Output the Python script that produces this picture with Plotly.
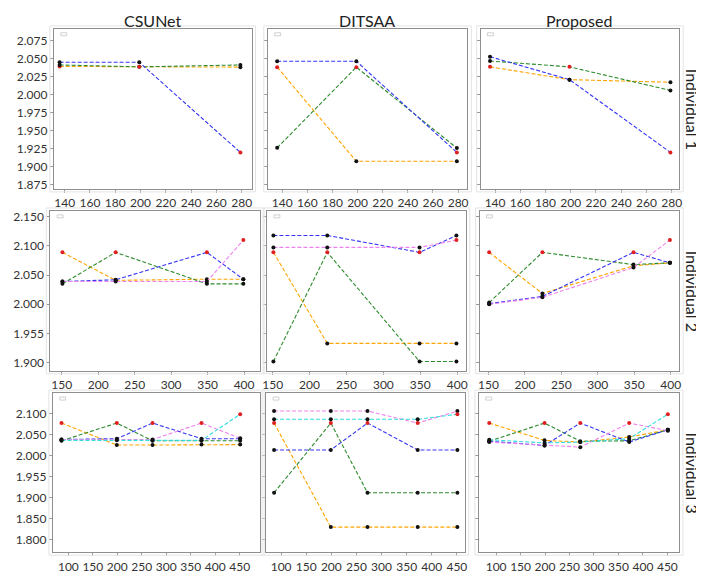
import plotly.graph_objects as go

# page body has an 8px default margin; lay out in reference pixels and shift
OFF = 8
W, H = 704 - OFF, 578 - OFF

methods = ["CSUNet", "DITSAA", "Proposed"]
individuals = ["Individual 1", "Individual 2", "Individual 3"]
series_names = ["orange", "green", "blue", "violet", "cyan"]
series_colors = ["#FFA500", "#2E8B2E", "#3535F5", "#EE82EE", "#30DDDD"]

x_ind1 = [136, 199, 279]
x_ind2 = [151, 224, 349, 399]
x_ind3 = [86, 199, 272, 372, 451]

# Individual 1
i1_csunet = {
    "orange": [2.039, 2.0384, 2.038],
    "green": [2.041, 2.0384, 2.041],
    "blue": [2.0447, 2.0447, 1.920],
}
i1_ditsaa = {
    "orange": [2.038, 1.9077, 1.9077],
    "green": [1.9263, 2.038, 1.926],
    "blue": [2.0461, 2.0461, 1.920],
}
i1_proposed = {
    "orange": [2.0384, 2.0207, 2.0171],
    "green": [2.0465, 2.0384, 2.0058],
    "blue": [2.0524, 2.0207, 1.920],
}
# Individual 2
i2_csunet = {
    "orange": [2.089, 2.041, 2.043, 2.043],
    "green": [2.035, 2.089, 2.035, 2.035],
    "blue": [2.039, 2.042, 2.089, 2.043],
    "violet": [2.039, 2.039, 2.039, 2.110],
}
i2_ditsaa = {
    "orange": [2.089, 1.933, 1.933, 1.933],
    "green": [1.902, 2.089, 1.902, 1.902],
    "blue": [2.118, 2.118, 2.089, 2.118],
    "violet": [2.0975, 2.0975, 2.0975, 2.110],
}
i2_proposed = {
    "orange": [2.089, 2.0185, 2.066, 2.071],
    "green": [2.003, 2.089, 2.068, 2.071],
    "blue": [2.001, 2.0135, 2.089, 2.071],
    "violet": [2.000, 2.012, 2.063, 2.110],
}
# Individual 3
i3_csunet = {
    "orange": [2.077, 2.025, 2.025, 2.026, 2.026],
    "green": [2.035, 2.077, 2.035, 2.035, 2.035],
    "blue": [2.038, 2.040, 2.077, 2.040, 2.040],
    "violet": [2.038, 2.038, 2.038, 2.077, 2.041],
    "cyan": [2.036, 2.036, 2.036, 2.036, 2.098],
}
i3_ditsaa = {
    "orange": [2.077, 1.8305, 1.8305, 1.8305, 1.8305],
    "green": [1.912, 2.077, 1.912, 1.912, 1.912],
    "blue": [2.0133, 2.0133, 2.077, 2.0133, 2.0133],
    "violet": [2.1055, 2.1055, 2.1055, 2.077, 2.1055],
    "cyan": [2.086, 2.086, 2.086, 2.086, 2.098],
}
i3_proposed = {
    "orange": [2.077, 2.036, 2.032, 2.044, 2.061],
    "green": [2.034, 2.077, 2.034, 2.035, 2.061],
    "blue": [2.034, 2.024, 2.077, 2.032, 2.061],
    "violet": [2.032, 2.024, 2.020, 2.077, 2.059],
    "cyan": [2.0375, 2.030, 2.032, 2.040, 2.098],
}

grid = [
    (x_ind1, [i1_csunet, i1_ditsaa, i1_proposed]),
    (x_ind2, [i2_csunet, i2_ditsaa, i2_proposed]),
    (x_ind3, [i3_csunet, i3_ditsaa, i3_proposed]),
]

y_ticks = [
    ([1.875, 1.9, 1.925, 1.95, 1.975, 2.0, 2.025, 2.05, 2.075],
     ["1.875", "1.900", "1.925", "1.950", "1.975", "2.000", "2.025", "2.050", "2.075"]),
    ([1.9, 1.95, 2.0, 2.05, 2.1, 2.15],
     ["1.900", "1.955", "2.000", "2.050", "2.100", "2.150"]),
    ([1.8, 1.85, 1.9, 1.95, 2.0, 2.05, 2.1],
     ["1.800", "1.850", "1.900", "1.955", "2.000", "2.050", "2.100"]),
]
y_ranges = [[1.8695, 2.091], [1.886, 2.160], [1.771, 2.148]]
x_ticks = [list(range(140, 281, 20)), list(range(150, 401, 50)), list(range(100, 451, 50))]
x_ranges = [
    [[131.4, 287.8], [128.5, 287.4], [128.5, 286.0]],
    [[134.3, 422.0], [142.4, 411.6], [137.8, 411.8]],
    [[68.3, 491.8], [70.0, 465.7], [64.8, 473.7]],
]

# reference pixel layout of boxes
col_px = [
    [(49.3, 249.3), (265.7, 467.7), (481, 682)],
    [(45.7, 258), (265, 466), (480, 682)],
    [(48.3, 258), (264, 465), (479.3, 681.7)],
]
row_px = [(27, 188.5), (210.7, 372), (394.5, 555)]


def fx(px):
    return (px - OFF) / W


def fy(py):
    return 1 - (py - OFF) / H


fig = go.Figure()
layout = {}
shapes = []
axis_font = dict(family="Lato, Open Sans, sans-serif", size=12, color="#333333")

for r in range(3):
    xs, panels = grid[r]
    for c in range(3):
        idx = r * 3 + c + 1
        xa = "x" if idx == 1 else f"x{idx}"
        ya = "y" if idx == 1 else f"y{idx}"
        x0p, x1p = col_px[r][c]
        y0p, y1p = row_px[r]
        layout["xaxis" if idx == 1 else f"xaxis{idx}"] = dict(
            domain=[fx(x0p), fx(x1p)], anchor=ya, range=x_ranges[r][c],
            tickvals=x_ticks[r], ticks="outside", ticklen=3, tickcolor="#999999",
            showline=True, linecolor="#8f8f8f", linewidth=1, mirror=True,
            showgrid=False, zeroline=False, tickfont=axis_font,
        )
        layout["yaxis" if idx == 1 else f"yaxis{idx}"] = dict(
            domain=[fy(y1p), fy(y0p)], anchor=xa, range=y_ranges[r],
            tickvals=y_ticks[r][0], ticktext=y_ticks[r][1],
            showticklabels=(c == 0), ticks="outside", ticklen=3, tickcolor="#999999",
            showline=True, linecolor="#8f8f8f", linewidth=1, mirror=True,
            showgrid=False, zeroline=False, tickfont=axis_font,
        )
        data = panels[c]
        for si, name in enumerate(series_names):
            if name not in data:
                continue
            ys = data[name]
            mcol = ["#E02020" if k == si else "#111111" for k in range(len(ys))]
            fig.add_trace(go.Scatter(
                x=xs, y=ys, xaxis=xa, yaxis=ya, mode="lines+markers",
                line=dict(color=series_colors[si], width=1.1, dash="4px,2px"),
                marker=dict(color=mcol, size=4),
                showlegend=False, name=name,
            ))
        shapes.append(dict(type="rect", xref="paper", yref="paper",
                           x0=fx(x0p - 4), x1=fx(x1p + 4),
                           y0=fy(y1p + 3), y1=fy(y0p - 3),
                           line=dict(color="#e4e4e4", width=1)))
        shapes.append(dict(type="rect", xref="paper", yref="paper",
                           x0=fx(x0p + 7), x1=fx(x0p + 13),
                           y0=fy(y0p + 7), y1=fy(y0p + 4),
                           line=dict(color="#d0d0d0", width=1)))

annotations = []
title_x = [149, 366, 581]
for c, m in enumerate(methods):
    annotations.append(dict(text=m, xref="paper", yref="paper", x=fx(title_x[c]), y=1.0,
                            showarrow=False, xanchor="center", yanchor="top", borderpad=0,
                            font=dict(family="Lato, Open Sans, sans-serif", size=16, color="#222222")))
for r, lab in enumerate(individuals):
    yc = (row_px[r][0] + row_px[r][1]) / 2
    annotations.append(dict(text=lab, xref="paper", yref="paper", x=fx(695), y=fy(yc),
                            showarrow=False, xanchor="center", yanchor="middle", textangle=90,
                            font=dict(family="Lato, Open Sans, sans-serif", size=16, color="#222222")))

fig.update_layout(
    width=W, height=H, margin=dict(l=0, r=0, t=0, b=0),
    paper_bgcolor="white", plot_bgcolor="white",
    shapes=shapes, annotations=annotations, **layout,
)

fig.write_html("out.html")
